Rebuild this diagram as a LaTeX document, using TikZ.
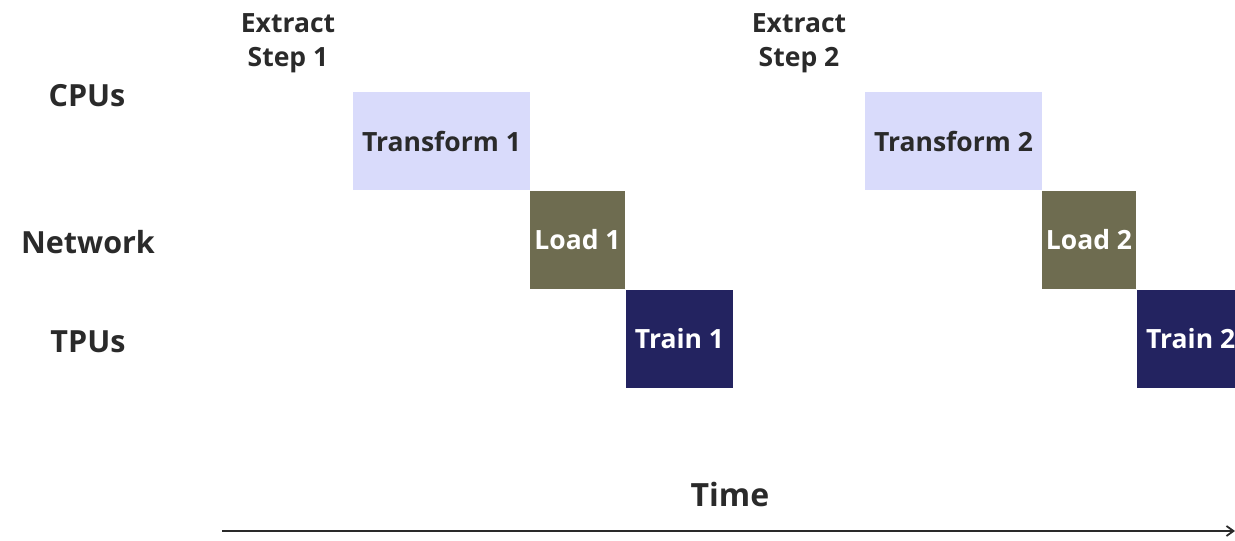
\documentclass[tikz,border=0pt]{standalone}
\usepackage{fontspec}
\setmainfont{Open Sans}
\usetikzlibrary{arrows.meta}
\definecolor{lav}{HTML}{D9DBFB}
\definecolor{olive}{HTML}{6E6C50}
\definecolor{navy}{HTML}{232360}
\definecolor{txt}{HTML}{2A2A2A}
\tikzset{
  blk/.style={draw=none, minimum height=98pt, inner sep=0pt, font=\bfseries\fontsize{26.5}{32}\selectfont},
  lbl/.style={font=\bfseries\fontsize{30.5}{36}\selectfont, text=txt, inner sep=0pt},
  ext/.style={font=\bfseries\fontsize{26.5}{34}\selectfont, text=txt, align=center, inner sep=0pt},
}
\begin{document}
\begin{tikzpicture}[x=1pt,y=-1pt]
\useasboundingbox (0,0) rectangle (1235,541);
\clip (0,0) rectangle (1235,541);
% row labels
\node[lbl] (cpu) at (87,96) {CPUs};
\node[lbl] (net) at (88,242) {Network};
\node[lbl] (tpu) at (88,342) {TPUs};
% extract labels
\node[ext] (ex1) at (288,43) {Extract\\Step 1};
\node[ext] (ex2) at (799,43) {Extract\\Step 2};
% step 1
\node[blk, fill=lav, text=txt, minimum width=177pt] (tr1) at (441.5,141) {Transform 1};
\node[blk, fill=olive, text=white, minimum width=95pt] (ld1) at (577.5,240) {Load 1};
\node[blk, fill=navy, text=white, minimum width=107pt] (tn1) at (679.5,339) {Train 1};
% step 2
\node[blk, fill=lav, text=txt, minimum width=177pt] (tr2) at (953.5,141) {Transform 2};
\node[blk, fill=olive, text=white, minimum width=94pt] (ld2) at (1089,240) {Load 2};
\node[blk, fill=navy, text=white, minimum width=107pt, anchor=west] (tn2) at (1137,339) {Train 2};
% time axis
\node[lbl, font=\bfseries\fontsize{32}{36}\selectfont] (time) at (730,494) {Time};
\coordinate (a0) at (222,531);
\coordinate (a1) at (1235,531);
\draw[line width=1.8pt, draw=txt, -{Straight Barb[length=7pt,width=10pt]}] (a0) -- (a1);
\end{tikzpicture}
\end{document}
